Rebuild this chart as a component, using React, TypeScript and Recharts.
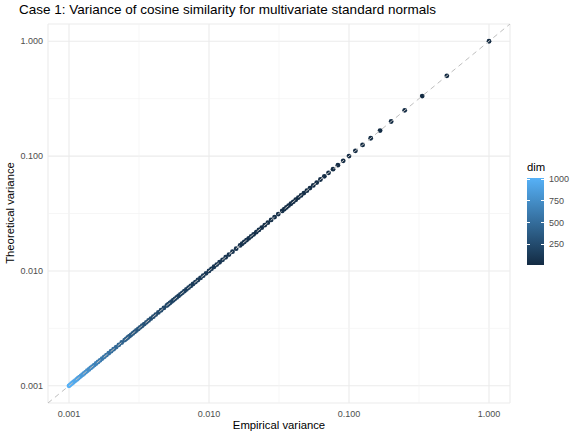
import React from "react";
import {
  ScatterChart,
  Scatter,
  XAxis,
  YAxis,
  CartesianGrid,
  ReferenceLine,
} from "recharts";

// dimension of each simulated case (subset, dense enough to form the band)
const dims = [
  1, 2, 3, 4, 5, 6, 7, 8, 9, 10, 11, 12, 13, 14, 15, 16, 17, 18, 19, 20,
  21, 22, 23, 24, 25, 26, 27, 28, 29, 30, 32, 34, 36, 38, 40, 42, 44, 46,
  48, 50, 52, 54, 56, 58, 60, 64, 68, 72, 76, 80, 84, 88, 92, 96, 100,
  105, 110, 115, 120, 125, 130, 135, 140, 145, 150, 155, 160, 165, 170,
  175, 180, 185, 190, 195, 200, 210, 220, 230, 240, 250, 260, 270, 280,
  290, 300, 310, 320, 330, 340, 350, 360, 370, 380, 390, 400, 420, 440,
  460, 480, 500, 520, 540, 560, 580, 600, 620, 640, 660, 680, 700, 720,
  740, 760, 780, 800, 820, 840, 860, 880, 900, 920, 940, 960, 980, 1000,
];

// theoretical variance for each dim
const theoretical = [
  1, 0.5, 0.3333, 0.25, 0.2, 0.1667, 0.1429, 0.125, 0.1111, 0.1, 0.09091,
  0.08333, 0.07692, 0.07143, 0.06667, 0.0625, 0.05882, 0.05556, 0.05263,
  0.05, 0.04762, 0.04545, 0.04348, 0.04167, 0.04, 0.03846, 0.03704,
  0.03571, 0.03448, 0.03333, 0.03125, 0.02941, 0.02778, 0.02632, 0.025,
  0.02381, 0.02273, 0.02174, 0.02083, 0.02, 0.01923, 0.01852, 0.01786,
  0.01724, 0.01667, 0.01563, 0.01471, 0.01389, 0.01316, 0.0125, 0.0119,
  0.01136, 0.01087, 0.01042, 0.01, 0.009524, 0.009091, 0.008696, 0.008333,
  0.008, 0.007692, 0.007407, 0.007143, 0.006897, 0.006667, 0.006452,
  0.00625, 0.006061, 0.005882, 0.005714, 0.005556, 0.005405, 0.005263,
  0.005128, 0.005, 0.004762, 0.004545, 0.004348, 0.004167, 0.004, 0.003846,
  0.003704, 0.003571, 0.003448, 0.003333, 0.003226, 0.003125, 0.00303,
  0.002941, 0.002857, 0.002778, 0.002703, 0.002632, 0.002564, 0.0025,
  0.002381, 0.002273, 0.002174, 0.002083, 0.002, 0.001923, 0.001852,
  0.001786, 0.001724, 0.001667, 0.001613, 0.001563, 0.001515, 0.001471,
  0.001429, 0.001389, 0.001351, 0.001316, 0.001282, 0.00125, 0.00122,
  0.00119, 0.001163, 0.001136, 0.001111, 0.001087, 0.001064, 0.001042,
  0.00102, 0.001,
];

// empirical variance (sits on the y = x line)
const empirical = theoretical.slice();

const majorTicks = [0.001, 0.01, 0.1, 1];
const minorTicks = [0.003162, 0.03162, 0.3162];
const legendTicks = [1000, 750, 500, 250];
const domain = [0.000708, 1.4125];

const LOW = [19, 43, 67];
const HIGH = [86, 177, 247];

function dimColor(d: number) {
  const t = (d - 1) / 999;
  const c = LOW.map((v, i) => Math.round(v + (HIGH[i] - v) * t));
  return `rgb(${c[0]},${c[1]},${c[2]})`;
}

const data = dims.map((d, i) => ({
  dim: d,
  empirical: empirical[i],
  theoretical: theoretical[i],
}));

// y = x reference, drawn over the points like geom_abline
const diagonal = [
  { empirical: domain[0], theoretical: domain[0] },
  { empirical: domain[1], theoretical: domain[1] },
];

const FONT = '"Liberation Sans", Arial, sans-serif';

// eslint-disable-next-line @typescript-eslint/no-explicit-any
const Dot = (props: any) => (
  <circle cx={props.cx} cy={props.cy} r={2.4} fill={dimColor(props.payload.dim)} />
);

const NoDot = () => <g />;

export default function App() {
  return (
    <div
      style={{
        position: "absolute",
        left: 0,
        top: 0,
        width: 581,
        height: 436,
        background: "#fff",
        fontFamily: FONT,
      }}
    >
      <div
        style={{
          position: "absolute",
          left: 19,
          top: 2,
          fontSize: 13.5,
          color: "#000",
          whiteSpace: "nowrap",
        }}
      >
        Case 1: Variance of cosine similarity for multivariate standard normals
      </div>

      <ScatterChart
        width={581}
        height={436}
        margin={{ top: 24, right: 71, bottom: 0, left: 0 }}
      >
        <CartesianGrid stroke="#EBEBEB" strokeWidth={1.1} />
        {minorTicks.map((v) => (
          <ReferenceLine key={"vx" + v} x={v} stroke="#F2F2F2" strokeWidth={0.7} />
        ))}
        {minorTicks.map((v) => (
          <ReferenceLine key={"hy" + v} y={v} stroke="#F2F2F2" strokeWidth={0.7} />
        ))}
        <XAxis
          type="number"
          dataKey="empirical"
          scale="log"
          domain={domain}
          allowDataOverflow
          ticks={majorTicks}
          tickFormatter={(v) => Number(v).toFixed(3)}
          axisLine={false}
          tickLine={false}
          tickSize={0}
          tickMargin={8}
          height={33}
          tick={{ fontSize: 9, fill: "#4D4D4D", fontFamily: FONT }}
        />
        <YAxis
          type="number"
          dataKey="theoretical"
          scale="log"
          domain={domain}
          allowDataOverflow
          ticks={majorTicks}
          tickFormatter={(v) => Number(v).toFixed(3)}
          axisLine={false}
          tickLine={false}
          tickSize={0}
          tickMargin={5}
          width={48}
          tick={{ fontSize: 9, fill: "#4D4D4D", fontFamily: FONT }}
        />
        <Scatter data={data} shape={Dot} isAnimationActive={false} />
        <Scatter
          data={diagonal}
          shape={NoDot}
          line={{ stroke: "#BEBEBE", strokeWidth: 1, strokeDasharray: "5 4" }}
          isAnimationActive={false}
        />
      </ScatterChart>

      <div
        style={{
          position: "absolute",
          left: 279,
          top: 425,
          transform: "translate(-50%, -50%)",
          fontSize: 11.3,
          whiteSpace: "nowrap",
        }}
      >
        Empirical variance
      </div>
      <div
        style={{
          position: "absolute",
          left: 10,
          top: 213,
          transform: "translate(-50%, -50%) rotate(-90deg)",
          fontSize: 11.3,
          whiteSpace: "nowrap",
        }}
      >
        Theoretical variance
      </div>

      <div style={{ position: "absolute", left: 527, top: 161, fontSize: 11.3 }}>dim</div>
      <div
        style={{
          position: "absolute",
          left: 527,
          top: 178,
          width: 17,
          height: 87,
          background: `linear-gradient(to bottom, ${dimColor(1000)}, ${dimColor(1)})`,
        }}
      >
        {legendTicks.map((t) => {
          const y = ((1000 - t) / 999) * 87 + 1;
          return (
            <React.Fragment key={t}>
              <div style={{ position: "absolute", left: 0, top: y - 0.5, width: 3, height: 1, background: "#fff" }} />
              <div style={{ position: "absolute", right: 0, top: y - 0.5, width: 3, height: 1, background: "#fff" }} />
              <div
                style={{
                  position: "absolute",
                  left: 22,
                  top: y,
                  transform: "translateY(-50%)",
                  fontSize: 9,
                  color: "#4D4D4D",
                }}
              >
                {t}
              </div>
            </React.Fragment>
          );
        })}
      </div>
    </div>
  );
}
